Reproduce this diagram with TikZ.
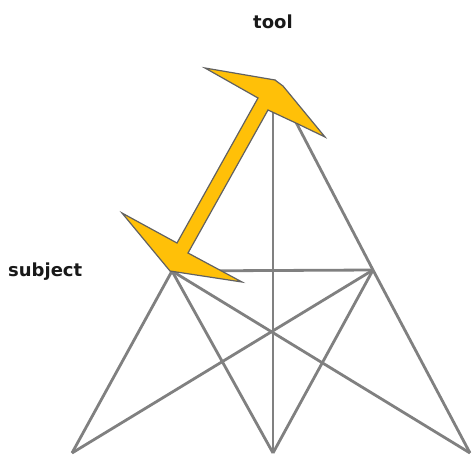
\documentclass[tikz,border=0pt]{standalone}
\usepackage{fontspec}
\newfontfamily\lblfont{DejaVu Sans}
\definecolor{arrowyellow}{RGB}{255,192,8}
\definecolor{edgegray}{RGB}{128,128,128}
\begin{document}
\begin{tikzpicture}[x=1pt,y=-1pt,
  edge/.style={draw=edgegray, line width=2.8pt},
  lbl/.style={font=\lblfont\bfseries\fontsize{18}{20}\selectfont, text=black!90, inner sep=0pt},
  yarrow/.style={fill=arrowyellow, draw=black!62, line width=1.2pt, line join=miter}]
\useasboundingbox (0,0) rectangle (475,456);
\fill[white] (0,0) rectangle (475,456);
% vertices
\coordinate (T) at (274,80);
\coordinate (S) at (172,271);
\coordinate (R) at (373,270);
\coordinate (BL) at (72,453);
\coordinate (BM) at (273,453);
\coordinate (BR) at (470,453);
% edges
\draw[edge] (T) -- (R) -- (BR);
\draw[edge] (273,100) -- (BM);
\draw[edge] (S) -- (R);
\draw[edge] (S) -- (BL);
\draw[edge] (S) -- (BM);
\draw[edge] (S) -- (BR);
\draw[edge] (R) -- (BL);
\draw[edge] (R) -- (BM);
% double arrow (subject <-> tool)
\filldraw[yarrow] (122,213) -- (170,271) -- (242,282) -- (188,253)
  -- (268,110) -- (298,124) -- (325,137) -- (283,86) -- (275,80)
  -- (205,68) -- (258,98) -- (177,243) -- cycle;
% labels
\node[lbl, anchor=base] (tool) at (273,28) {tool};
\node[lbl, anchor=base west] (subject) at (8,276) {subject};
\end{tikzpicture}
\end{document}
